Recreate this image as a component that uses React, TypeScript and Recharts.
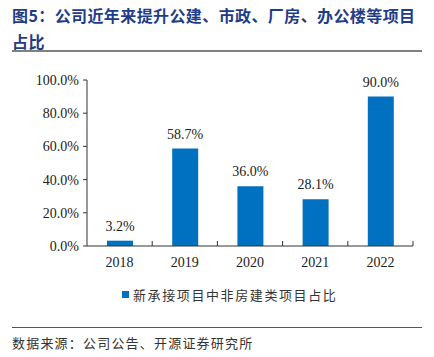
import React from "react"
import { BarChart, Bar, XAxis, YAxis, Legend, LabelList } from "recharts"

const years = ["2018", "2019", "2020", "2021", "2022"]
const shares = [3.2, 58.7, 36.0, 28.1, 90.0]
const yTicks = [0, 20, 40, 60, 80, 100]
const seriesName = "新承接项目中非房建类项目占比"

const data = years.map((year, i) => ({ year, share: shares[i] }))

const BLUE = "#0070C0"
const SERIF = "'Liberation Serif', 'Times New Roman', serif"
const CJK = "'Noto Sans CJK SC', sans-serif"

// plot spans x 87..413, so each category band is ~65px
const STEP = 326 / years.length

function YearTick(props: any) {
  const { x, y, payload } = props
  const axisY = y - 10
  return (
    <g>
      <line x1={x + STEP / 2} x2={x + STEP / 2} y1={axisY} y2={axisY - 5} stroke="#333" />
      <text x={x} y={y} dy={11} textAnchor="middle" fontSize={14} fontFamily={SERIF} fill="#222">
        {payload.value}
      </text>
    </g>
  )
}

function LegendContent() {
  return (
    <div style={{ display: "flex", alignItems: "center", paddingLeft: 122, paddingTop: 9 }}>
      <span style={{ width: 7, height: 7, background: BLUE, display: "inline-block", marginRight: 4 }} />
      <span style={{ fontFamily: CJK, fontSize: 13, color: "#333", letterSpacing: 1.6 }}>{seriesName}</span>
    </div>
  )
}

export default function App() {
  return (
    <div style={{ position: "absolute", left: 0, top: 0, width: 434, height: 357, background: "#fff" }}>
      <div
        style={{
          position: "absolute",
          left: 12,
          top: 2,
          width: 420,
          fontFamily: CJK,
          fontWeight: 700,
          fontSize: 16,
          lineHeight: "26px",
          letterSpacing: 0.4,
          color: "#1F3C88",
        }}
      >
        图5：公司近年来提升公建、市政、厂房、办公楼等项目
        <br />
        占比
      </div>
      <div style={{ position: "absolute", left: 12, top: 50, width: 410, height: 2, background: "#808080" }} />

      <div style={{ position: "absolute", left: 0, top: 0 }}>
        <BarChart width={434} height={310} data={data} margin={{ top: 80, right: 21, left: 0, bottom: 0 }}>
          <XAxis
            dataKey="year"
            axisLine={{ stroke: "#333" }}
            tickLine={false}
            tickSize={0}
            tickMargin={10}
            height={30}
            tick={<YearTick />}
            interval={0}
          />
          <YAxis
            domain={[0, 100]}
            ticks={yTicks}
            width={87}
            axisLine={{ stroke: "#333" }}
            tickLine={{ stroke: "#333" }}
            tickSize={4}
            tickMargin={4}
            tick={{ fontSize: 14, fontFamily: SERIF, fill: "#222" }}
            tickFormatter={(v: number) => v.toFixed(1) + "%"}
          />
          <Legend verticalAlign="bottom" height={34} content={<LegendContent />} />
          <Bar dataKey="share" name={seriesName} fill={BLUE} barSize={26} isAnimationActive={false}>
            <LabelList
              dataKey="share"
              position="top"
              offset={10}
              formatter={(v: any) => Number(v).toFixed(1) + "%"}
              style={{ fontSize: 14, fontFamily: SERIF, fill: "#222" }}
            />
          </Bar>
        </BarChart>
      </div>

      <div style={{ position: "absolute", left: 12, top: 327, width: 410, height: 1, background: "#555" }} />
      <div
        style={{
          position: "absolute",
          left: 12,
          top: 333,
          fontFamily: CJK,
          fontSize: 13,
          color: "#333",
          letterSpacing: 1.2,
          lineHeight: "20px",
        }}
      >
        数据来源：公司公告、开源证券研究所
      </div>
    </div>
  )
}
